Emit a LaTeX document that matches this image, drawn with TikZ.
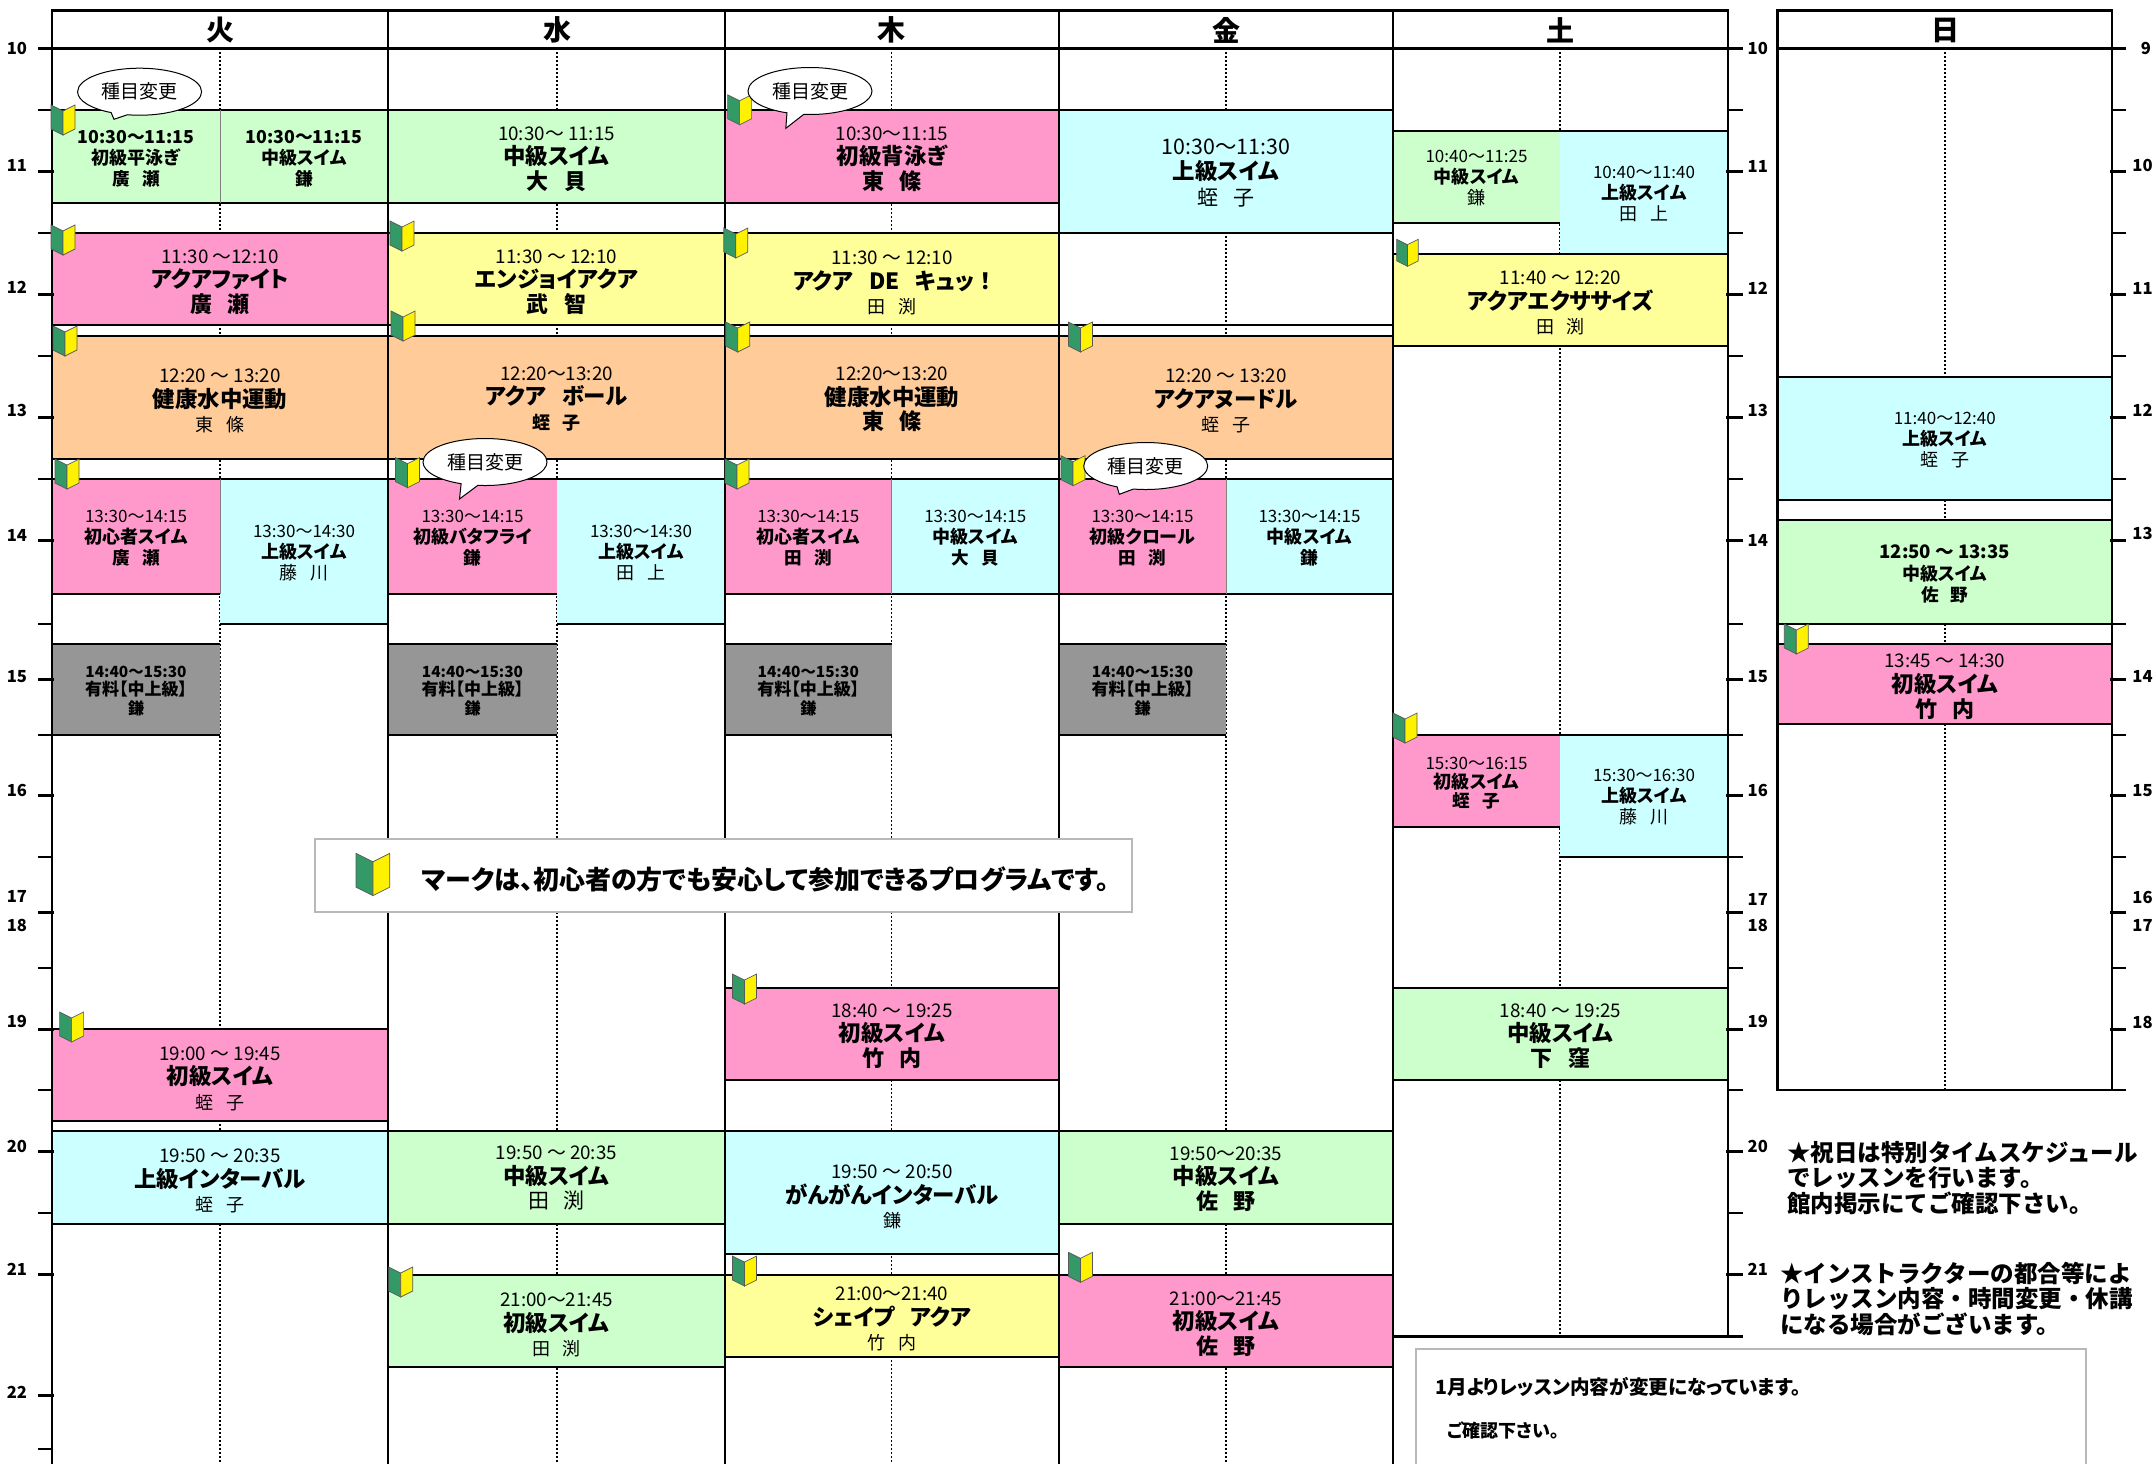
\documentclass[tikz,border=0pt]{standalone}
\usepackage{fontspec}
\setmainfont[RawFeature=+palt]{Noto Sans CJK JP}
\newfontfamily\heavy[RawFeature=+palt]{Noto Sans CJK JP Black}
\newfontfamily\gothic{Noto Sans CJK JP}
\usetikzlibrary{shapes.callouts}

\definecolor{lgreen}{HTML}{CCFFCC}
\definecolor{lpink}{HTML}{FF99CC}
\definecolor{lyellow}{HTML}{FFFF99}
\definecolor{lorange}{HTML}{FFCC99}
\definecolor{lcyan}{HTML}{CCFFFF}
\definecolor{lgrey}{HTML}{969696}
\definecolor{wgreen}{HTML}{339966}
\definecolor{boxgrey}{HTML}{B8B8B8}

% time lines
\newcommand{\tm}{\fontsize{9.4}{12}\selectfont}
\newcommand{\tml}{\fontsize{10.7}{12}\selectfont}
\newcommand{\tms}{\fontsize{8.5}{10.5}\selectfont}
\newcommand{\tmb}{\fontsize{8.9}{10.5}\bfseries\selectfont}
\newcommand{\tmc}{\fontsize{9.3}{10.5}\bfseries\selectfont}
\newcommand{\tmg}{\fontsize{7.7}{9.4}\bfseries\selectfont}
% title lines
\newcommand{\ttl}{\fontsize{11.2}{12}\heavy\selectfont}
\newcommand{\ttls}{\fontsize{9}{10.5}\heavy\selectfont}
\newcommand{\ttlg}{\fontsize{8.5}{9.4}\heavy\selectfont}
% teacher lines
\newcommand{\tch}{\fontsize{9}{12}\mdseries\selectfont}
\newcommand{\tchl}{\fontsize{10.5}{12}\selectfont}
\newcommand{\tchm}{\fontsize{9}{11.8}\bfseries\selectfont}
\newcommand{\tchb}{\fontsize{11}{12}\bfseries\selectfont}
\newcommand{\tchn}{\fontsize{9}{10.6}\selectfont}
\newcommand{\tchs}{\fontsize{8.8}{10.5}\bfseries\selectfont}
\newcommand{\tchg}{\fontsize{8}{9.4}\bfseries\selectfont}
\newcommand{\gp}{\hspace{.7em}}

\tikzset{
	edge/.style={black, line width=1pt},
	midline/.style={black, line width=.7pt, dash pattern=on 1pt off 1pt},
	colline/.style={black, line width=1.35pt},
	hourtick/.style={black, line width=1.35pt},
	halftick/.style={black, line width=.95pt},
	lessontxt/.style={align=center, inner sep=0pt, yshift=-1pt, execute at begin node={\lineskiplimit=-50pt\baselineskip=#1\relax}},
	daylbl/.style={font=\fontsize{14}{14}\bfseries\selectfont, inner sep=0pt},
	hourlbl/.style={font=\fontsize{8.3}{9}\bfseries\selectfont, inner sep=0pt},
	notelbl/.style={align=left, anchor=west, inner sep=0pt, font=\gothic\fontsize{11.75}{12.75}\bfseries\selectfont,
		execute at begin node={\lineskiplimit=-50pt\relax}},
	bubble/.style={ellipse callout, draw=black, fill=white, line width=.5pt, inner sep=0pt,
		minimum width=62pt, minimum height=23.5pt, callout pointer arc=16,
		font=\fontsize{9.5}{10}\selectfont},
	wakaba/.pic={
		\filldraw[fill=wgreen, draw=black!65, line width=.35pt] (0,0) -- (12,6) -- (12,30) -- (0,24) -- cycle;
		\filldraw[fill=yellow, draw=black!65, line width=.35pt] (24,0) -- (12,6) -- (12,30) -- (24,24) -- cycle;
	}
}

% [line distance], name, x1, y1, x2, y2, colour, text y, text
\newcommand{\lesson}[9][12.2pt]{%
	\fill[#7] (#3,#4) rectangle (#5,#6);
	\draw[edge] (#3,#4) -- (#5,#4) (#3,#6) -- (#5,#6);
	\node[lessontxt=#1] (#2) at ({(#3+#5)/2},#8) {#9};
}

\begin{document}
\begin{tikzpicture}[x=0.5pt,y=-0.5pt]
	\useasboundingbox (0,0) rectangle (2156,1464);

	\foreach \x in {220,557,891.5,1226} \draw[midline] (\x,48) -- (\x,1464);
	\draw[midline] (1560,48) -- (1560,1336);
	\draw[midline] (1945,48) -- (1945,1090);

	% tuesday
	\lesson[10.4pt]{tuea}{52}{109.7}{220}{202.5}{lgreen}{156.7}{\tmb 10:30～11:15\\ \ttls 初級平泳ぎ\\ \tchs 廣\gp 瀬}
	\lesson[10.4pt]{tueb}{220}{109.7}{388}{202.5}{lgreen}{156.7}{\tmb 10:30～11:15\\ \ttls 中級スイム\\ \tchs 鎌}
	\lesson{tuec}{52}{232.7}{388}{324.7}{lpink}{280}{\tm 11:30 ～12:10\\ \ttl アクアファイト\\ \tchb 廣\gp 瀬}
	\lesson{tued}{52}{336.3}{388}{458.7}{lorange}{399}{\tm 12:20 ～ 13:20\\ \ttl 健康水中運動\\ \tch 東\gp 條}
	\lesson[10.5pt]{tuee}{52}{479}{220}{594}{lpink}{536}{\tms 13:30～14:15\\ \ttls 初心者スイム\\ \tchs 廣\gp 瀬}
	\lesson[10.5pt]{tuef}{220}{479}{388}{623.7}{lcyan}{551}{\tms 13:30～14:30\\ \ttls 上級スイム\\ \tchn 藤\gp 川}
	\lesson[9.4pt]{tueg}{52}{643.7}{220}{735}{lgrey}{689}{\tmg 14:40～15:30\\ \ttlg 有料【中上級】\\ \tchg 鎌}
	\lesson{tueh}{52}{1029}{388}{1121}{lpink}{1076.7}{\tm 19:00 ～ 19:45\\ \ttl 初級スイム\\ \tch 蛭\gp 子}
	\lesson{tuei}{52}{1131}{388}{1223.7}{lcyan}{1179}{\tm 19:50 ～ 20:35\\ \ttl 上級インターバル\\ \tch 蛭\gp 子}

	% wednesday
	\lesson{weda}{388}{109.7}{725}{202.5}{lgreen}{157}{\tm 10:30～ 11:15\\ \ttl 中級スイム\\ \tchb 大\gp 貝}
	\lesson{wedb}{388}{232.7}{725}{324.7}{lyellow}{280}{\tm 11:30 ～ 12:10\\ \ttl エンジョイアクア\\ \tchb 武\gp 智}
	\lesson{wedc}{388}{336.3}{725}{458.7}{lorange}{397}{\tm 12:20～13:20\\ \ttl アクア\gp ボール\\ \tchm 蛭\gp 子}
	\lesson[10.5pt]{wedd}{388}{479}{557}{594}{lpink}{536}{\tms 13:30～14:15\\ \ttls 初級バタフライ\\ \tchs 鎌}
	\lesson[10.5pt]{wede}{557}{479}{725}{623.7}{lcyan}{551}{\tms 13:30～14:30\\ \ttls 上級スイム\\ \tchn 田\gp 上}
	\lesson[9.4pt]{wedf}{388}{643.7}{557}{735}{lgrey}{689}{\tmg 14:40～15:30\\ \ttlg 有料【中上級】\\ \tchg 鎌}
	\lesson{wedg}{388}{1131}{725}{1223.7}{lgreen}{1176}{\tm 19:50 ～ 20:35\\ \ttl 中級スイム\\ \tchl 田\gp 渕}
	\lesson{wedh}{388}{1275}{725}{1367}{lgreen}{1323}{\tm 21:00～21:45\\ \ttl 初級スイム\\ \tch 田\gp 渕}

	% thursday
	\lesson{thua}{725}{109.7}{1059}{202.5}{lpink}{157}{\tm 10:30～11:15\\ \ttl 初級背泳ぎ\\ \tchb 東\gp 條}
	\lesson{thub}{725}{232.7}{1059}{324.7}{lyellow}{281}{\tm 11:30 ～ 12:10\\ \ttl アクア\gp DE\gp キュッ\hspace{3pt}！\\ \tch 田\gp 渕}
	\lesson{thuc}{725}{336.3}{1059}{458.7}{lorange}{397.5}{\tm 12:20～13:20\\ \ttl 健康水中運動\\ \tchb 東\gp 條}
	\lesson[10.5pt]{thud}{725}{479}{891.5}{594}{lpink}{536}{\tms 13:30～14:15\\ \ttls 初心者スイム\\ \tchs 田\gp 渕}
	\lesson[10.5pt]{thue}{891.5}{479}{1059}{594}{lcyan}{536}{\tms 13:30～14:15\\ \ttls 中級スイム\\ \tchs 大\gp 貝}
	\lesson[9.4pt]{thuf}{725}{643.7}{891.5}{735}{lgrey}{689}{\tmg 14:40～15:30\\ \ttlg 有料【中上級】\\ \tchg 鎌}
	\lesson{thug}{725}{988}{1059}{1079.7}{lpink}{1034}{\tm 18:40 ～ 19:25\\ \ttl 初級スイム\\ \tchb 竹\gp 内}
	\lesson{thuh}{725}{1131}{1059}{1254}{lcyan}{1195}{\tm 19:50 ～ 20:50\\ \ttl がんがんインターバル\\ \tch 鎌}
	\lesson{thui}{725}{1275}{1059}{1357}{lyellow}{1317}{\tm 21:00～21:40\\ \ttl シェイプ\gp アクア\\ \tch 竹\gp 内}

	% friday
	\lesson[12.8pt]{fria}{1059}{109.7}{1393}{232.7}{lcyan}{171}{\tml 10:30～11:30\\ \ttl 上級スイム\\ \tchl 蛭\gp 子}
	\lesson{frib}{1059}{336.3}{1393}{458.7}{lorange}{399}{\tm 12:20 ～ 13:20\\ \ttl アクアヌードル\\ \tch 蛭\gp 子}
	\lesson[10.5pt]{fric}{1059}{479}{1226}{594}{lpink}{536}{\tms 13:30～14:15\\ \ttls 初級クロール\\ \tchs 田\gp 渕}
	\lesson[10.5pt]{frid}{1226}{479}{1393}{594}{lcyan}{536}{\tms 13:30～14:15\\ \ttls 中級スイム\\ \tchs 鎌}
	\lesson[9.4pt]{frie}{1059}{643.7}{1226}{735}{lgrey}{689}{\tmg 14:40～15:30\\ \ttlg 有料【中上級】\\ \tchg 鎌}
	\lesson{frif}{1059}{1131}{1393}{1223.7}{lgreen}{1177}{\tm 19:50～20:35\\ \ttl 中級スイム\\ \tchb 佐\gp 野}
	\lesson{frig}{1059}{1275}{1393}{1367}{lpink}{1322}{\tm 21:00～21:45\\ \ttl 初級スイム\\ \tchb 佐\gp 野}
	\draw[edge] (1059,324.7) -- (1393,324.7);

	% saturday
	\lesson[10.6pt]{sata}{1393}{131}{1560}{222.7}{lgreen}{176}{\tms 10:40～11:25\\ \ttls 中級スイム\\ \tchn 鎌}
	\lesson[10.6pt]{satb}{1560}{131}{1728}{254}{lcyan}{192}{\tms 10:40～11:40\\ \ttls 上級スイム\\ \tchn 田\gp 上}
	\lesson{satc}{1393}{254}{1728}{346}{lyellow}{301}{\tm 11:40 ～ 12:20\\ \ttl アクアエクササイズ\\ \tch 田\gp 渕}
	\lesson[9.6pt]{satd}{1393}{735}{1560}{827}{lpink}{781}{\tms 15:30～16:15\\ \ttls 初級スイム\\ \tchs 蛭\gp 子}
	\lesson[10.6pt]{sate}{1560}{735}{1728}{856.7}{lcyan}{795}{\tms 15:30～16:30\\ \ttls 上級スイム\\ \tchn 藤\gp 川}
	\lesson{satf}{1393}{988}{1728}{1079.7}{lgreen}{1034}{\tm 18:40 ～ 19:25\\ \ttl 中級スイム\\ \tchb 下\gp 窪}

	% sunday
	\lesson[10.7pt]{suna}{1777.5}{377}{2112}{499.7}{lcyan}{438}{\tms 11:40～12:40\\ \ttls 上級スイム\\ \tchn 蛭\gp 子}
	\lesson[10.6pt]{sunb}{1777.5}{520}{2112}{623.7}{lgreen}{572}{\tmc 12:50 ～ 13:35\\ \ttls 中級スイム\\ \tchs 佐\gp 野}
	\lesson[12.4pt]{sunc}{1777.5}{643.7}{2112}{724}{lpink}{685}{\tm 13:45 ～ 14:30\\ \ttl 初級スイム\\ \tchb 竹\gp 内}

	\foreach \x in {220,891.5,1226} \draw[gray, line width=.4pt] (\x,479) -- (\x,594);
	\draw[gray, line width=.4pt] (220,109.7) -- (220,202.5);

	% frames and ticks
	\foreach \x in {52,388,725,1059,1393} \draw[colline] (\x,10.7) -- (\x,1464);
	\draw[colline] (1728,10.7) -- (1728,1336.7);
	\draw[colline] (51.3,10.7) -- (1728.7,10.7);
	\draw[colline] (1393,1336.7) -- (1742.8,1336.7);
	\draw[colline] (1777.5,10.7) rectangle (2112,1090);
	\draw[colline] (37.8,48.3) -- (1742.8,48.3);
	\draw[colline] (1777.5,48.3) -- (2125.6,48.3);

	\foreach \y in {171.3,294.3,417.3,540.3,679.3,795.3,912.3,1029.3,1151.3,1274.3,1395.3} \draw[hourtick] (37.8,\y) -- (54,\y);
	\foreach \y in {109.7,232.7,355.7,479,623.7,735,856.7,967.7,1090,1213,1449} \draw[halftick] (37.8,\y) -- (52,\y);
	\foreach \y in {171.3,294.3,417.3,540.3,679.3,795.3,912.3,1029.3,1151.3,1274.3} \draw[hourtick] (1726,\y) -- (1742.8,\y);
	\foreach \y in {109.7,232.7,355.7,479,623.7,735,856.7,967.7,1090,1213} \draw[halftick] (1728,\y) -- (1742.8,\y);
	\foreach \y in {171.3,294.3,417.3,540.3,679.3,795.3,912.3,1029.3} \draw[hourtick] (2110,\y) -- (2125.6,\y);
	\foreach \y in {109.7,232.7,355.7,479,623.7,735,856.7,967.7,1090} \draw[halftick] (2112,\y) -- (2125.6,\y);

	\foreach \t/\y in {10/48,11/165.7,12/287.7,13/410.7,14/535,15/676.7,16/790,17/896.7,18/925,19/1021.7,20/1146.7,21/1269,22/1392}
		\node[hourlbl] (ml\t) at (17,\y) {\t};
	\foreach \t/\y in {10/48,11/166,12/288,13/410.7,14/540,15/677,16/790.7,17/899,18/925,19/1021.7,20/1146.7,21/1269}
		\node[hourlbl] (rl\t) at (1757.8,\y) {\t};
	\foreach \t/\y/\x in {9/48/2146,10/165/2142.5,11/288.7/2142.5,12/410.7/2142.5,13/533/2142.5,14/676.7/2142.5,15/790.7/2142.5,16/897/2142.5,17/925/2142.5,18/1022.7/2142.5}
		\node[hourlbl] (sl\t) at (\x,\y) {\t};

	\node[daylbl] (tue) at (220,30) {火};
	\node[daylbl] (wed) at (557,30) {水};
	\node[daylbl] (thu) at (891.5,30) {木};
	\node[daylbl] (fri) at (1226,30) {金};
	\node[daylbl] (sat) at (1560,30) {土};
	\node[daylbl] (sun) at (1945,30) {日};

	% beginner marks
	\foreach \x/\y in {51/105,51/225,53/326,55/459,390/221,391/311,395.5/457.7,388.7/1267,727.6/94.7,723.8/228,725.7/322,725/459,
		1068.4/322,1061/455.7,1393/713,1784.3/624,59.6/1012,732.5/974,732.5/1256,1068.4/1252.3}
		\pic at (\x,\y) {wakaba};
	\pic[scale=.9] at (1396.6,239.3) {wakaba};

	% legend
	\node[draw=boxgrey, fill=white, line width=1pt, minimum width=408.5pt, minimum height=36.3pt, inner sep=0pt] (legend) at (723.5,875.6) {};
	\pic[scale=1.41] at (356,853.3) {wakaba};
	\node[anchor=west, inner sep=0pt, font=\fontsize{13}{13}\bfseries\selectfont] (legendtxt) at (421.7,879) {マークは、初心者の方でも安心して参加できるプログラムです。};

	% change notes
	\node[bubble, callout absolute pointer={(114,119.3)}] (chga) at (139.6,91.7) {種目変更};
	\node[bubble, callout absolute pointer={(459.5,499)}] (chgb) at (485,462) {種目変更};
	\node[bubble, callout absolute pointer={(785.8,128.3)}] (chgc) at (810,91) {種目変更};
	\node[bubble, callout absolute pointer={(1119.3,494.3)}] (chgd) at (1145.7,466) {種目変更};

	% notes
	\node[notelbl] (notea) at (1787,1178) {★祝日は特別タイムスケジュール\\でレッスンを行います。\\館内掲示にてご確認下さい。};
	\node[notelbl] (noteb) at (1780,1298.5) {★インストラクターの都合等によ\\りレッスン内容・時間変更・休講\\になる場合がございます。};

	\draw[draw=boxgrey, line width=1pt] (1416,1464) -- (1416,1349) -- (2085.6,1349) -- (2085.6,1464);
	\node[anchor=west, inner sep=0pt, font=\fontsize{9.8}{10}\bfseries\selectfont] (infoa) at (1434.7,1386.7) {1月よりレッスン内容が変更になっています。};
	\node[anchor=west, inner sep=0pt, font=\fontsize{9}{9}\bfseries\selectfont] (infob) at (1446.8,1430.7) {ご確認下さい。};
\end{tikzpicture}
\end{document}
